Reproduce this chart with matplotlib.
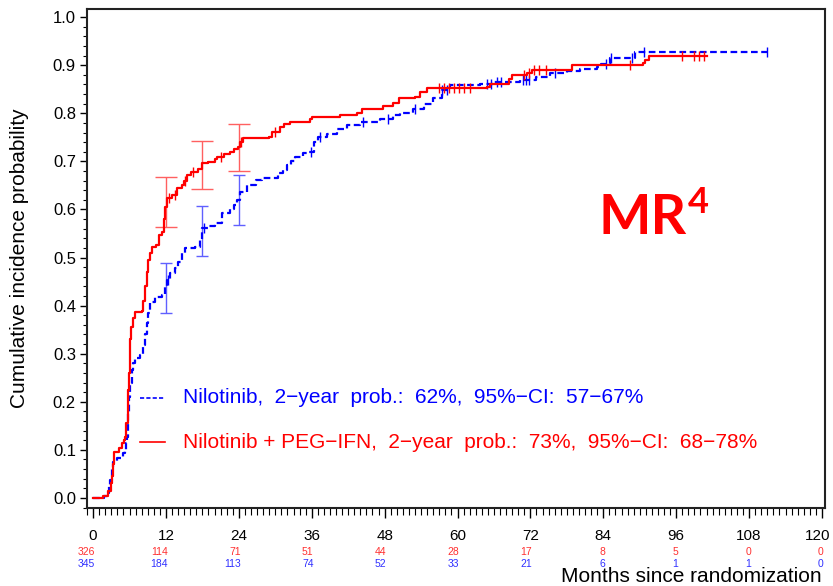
import matplotlib
matplotlib.use("Agg")
import matplotlib.pyplot as plt
import matplotlib.transforms as mtransforms
from matplotlib.ticker import MultipleLocator, FormatStrFormatter

plt.rcParams['font.family'] = ['Liberation Sans', 'DejaVu Sans']

# ---- data ----
red_t = [0, 1.6, 2.5, 2.9, 3.1, 3.3, 3.5, 4.2, 4.7, 5.1, 5.3, 5.5, 5.7, 5.8, 5.9, 6.0, 6.1, 6.25, 6.5, 6.9,
         8.0, 8.3, 8.6, 8.9, 9.1, 9.4, 9.7, 10.3, 10.8, 11.3, 11.6, 11.85, 12.1, 13.0, 13.8, 14.6, 15.0, 15.4,
         16.2, 17.3, 18.0, 19.0, 20.1, 20.4, 21.5, 22.6, 23.2, 23.9, 24.2, 24.7, 28.9, 29.4, 30.8, 31.5, 32.4,
         35.7, 36.0, 40.7, 43.4, 44.2, 47.8, 49.4, 50.3, 53.0, 53.8, 54.9, 64.8, 65.3, 68.4, 68.9, 71.4, 72.2,
         78.8, 90.6, 90.9, 91.6, 101.0]
red_p = [0, 0.005, 0.015, 0.03, 0.045, 0.07, 0.096, 0.104, 0.114, 0.12, 0.127, 0.156, 0.2, 0.225, 0.26, 0.294,
         0.33, 0.356, 0.375, 0.387, 0.389, 0.41, 0.44, 0.47, 0.495, 0.51, 0.522, 0.526, 0.547, 0.554, 0.58, 0.606,
         0.623, 0.63, 0.644, 0.651, 0.66, 0.672, 0.678, 0.685, 0.697, 0.699, 0.704, 0.71, 0.715, 0.72, 0.725, 0.73,
         0.741, 0.748, 0.751, 0.762, 0.772, 0.777, 0.782, 0.789, 0.793, 0.796, 0.801, 0.81, 0.815, 0.822, 0.831,
         0.834, 0.845, 0.853, 0.855, 0.862, 0.872, 0.879, 0.884, 0.891, 0.9, 0.905, 0.911, 0.919, 0.919]

blue_t = [0, 1.8, 2.25, 2.6, 2.8, 3.1, 3.35, 3.9, 4.7, 5.0, 5.3, 5.5, 5.65, 5.75, 5.8, 5.95, 6.1, 6.4, 6.6, 6.9,
          7.7, 8.3, 8.6, 8.8, 9.1, 9.4, 10.2, 11.3, 11.85, 12.1, 12.7, 13.5, 14.0, 14.6, 15.1, 16.8, 17.6, 18.0,
          19.0, 20.1, 21.2, 22.6, 23.2, 23.7, 24.2, 25.3, 26.9, 27.8, 30.5, 31.2, 31.9, 32.6, 33.3, 34.6, 35.4,
          36.3, 37.1, 38.5, 40.1, 41.8, 43.9, 47.2, 49.4, 50.5, 52.7, 54.4, 56.0, 57.4, 58.8, 63.7, 65.9, 70.3,
          73.0, 75.2, 78.0, 80.2, 82.9, 83.7, 85.1, 89.2, 111.0]
blue_p = [0, 0.003, 0.01, 0.025, 0.037, 0.06, 0.075, 0.082, 0.086, 0.093, 0.1, 0.115, 0.127, 0.15, 0.176, 0.21,
          0.238, 0.266, 0.28, 0.29, 0.297, 0.318, 0.34, 0.363, 0.384, 0.408, 0.418, 0.422, 0.439, 0.453, 0.467,
          0.478, 0.49, 0.509, 0.519, 0.522, 0.536, 0.561, 0.565, 0.571, 0.592, 0.602, 0.61, 0.62, 0.637, 0.651,
          0.661, 0.665, 0.675, 0.683, 0.692, 0.7, 0.71, 0.717, 0.72, 0.741, 0.751, 0.758, 0.768, 0.775, 0.782,
          0.789, 0.796, 0.8, 0.81, 0.82, 0.831, 0.848, 0.859, 0.862, 0.866, 0.869, 0.876, 0.884, 0.887, 0.893,
          0.896, 0.903, 0.916, 0.928, 0.928]

red_cens = [12.5, 13.5, 15.2, 16.5, 21.0, 24.4, 30.0, 57.0, 57.8, 58.6, 59.4, 60.2, 61.0, 62.0,
            71.0, 71.8, 72.6, 73.4, 74.5, 88.4, 97.0, 99.0, 99.8, 100.5]
blue_cens = [12.4, 18.2, 35.9, 37.3, 44.5, 48.6, 53.0, 57.5, 58.2, 64.9, 65.5, 66.5, 67.2, 70.7, 71.3,
             71.8, 76.0, 84.5, 85.3, 88.7, 90.7, 111.0]

ci_t = [12, 18, 24]
red_lo = [0.563, 0.642, 0.680]
red_hi = [0.668, 0.743, 0.778]
blue_lo = [0.385, 0.503, 0.568]
blue_hi = [0.489, 0.607, 0.671]

xticks = [0, 12, 24, 36, 48, 60, 72, 84, 96, 108, 120]
risk_red = [326, 114, 71, 51, 44, 28, 17, 8, 5, 0, 0]
risk_blue = [345, 184, 113, 74, 52, 33, 21, 6, 1, 1, 0]

blue_label = "Nilotinib,  2\u2212year  prob.:  62%,  95%\u2212CI:  57\u221267%"
red_label = "Nilotinib + PEG\u2212IFN,  2\u2212year  prob.:  73%,  95%\u2212CI:  68\u221278%"

RED = "#FF0000"
BLUE = "#0000FF"


def step_at(ts, ps, x):
    v = ps[0]
    for t, p in zip(ts, ps):
        if t <= x:
            v = p
    return v


fig = plt.figure(figsize=(8.33, 5.86), dpi=100)
ax = fig.add_axes([87 / 833, 1 - 508 / 586, 738 / 833, 499 / 586])

ax.plot(blue_t, blue_p, drawstyle="steps-post", color=BLUE, lw=1.6, dashes=(3, 1.6), zorder=3)
ax.plot(red_t, red_p, drawstyle="steps-post", color=RED, lw=1.6, zorder=4)

ax.plot(blue_cens, [step_at(blue_t, blue_p, c) for c in blue_cens], ls="none", marker="|",
        ms=7, mew=1.0, color=BLUE, zorder=3)
ax.plot(red_cens, [step_at(red_t, red_p, c) for c in red_cens], ls="none", marker="|",
        ms=7, mew=1.0, color=RED, zorder=4)

# confidence interval bars
for t, lo, hi in zip(ci_t, red_lo, red_hi):
    ax.errorbar([t], [(lo + hi) / 2], yerr=[[(hi - lo) / 2], [(hi - lo) / 2]], fmt="none",
                ecolor="#FF6060", elinewidth=1.0, capsize=8, capthick=1.0, zorder=2)
for t, lo, hi in zip(ci_t, blue_lo, blue_hi):
    ax.errorbar([t], [(lo + hi) / 2], yerr=[[(hi - lo) / 2], [(hi - lo) / 2]], fmt="none",
                ecolor="#6060FF", elinewidth=1.0, capsize=4, capthick=1.0, zorder=2)

ax.set_xlim(-1.0, 120.5)
ax.set_ylim(-0.021, 1.017)

ax.set_yticks([i / 10 for i in range(11)])
ax.yaxis.set_major_formatter(FormatStrFormatter("%.1f"))
ax.yaxis.set_minor_locator(MultipleLocator(0.02))
ax.set_xticks(xticks)
ax.xaxis.set_minor_locator(MultipleLocator(1))

ax.tick_params(axis="y", which="major", length=5, width=1, labelsize=12, pad=3)
ax.tick_params(axis="y", which="minor", length=3, width=0.8)
ax.tick_params(axis="x", which="major", length=7, width=1, labelsize=11, pad=8)
ax.tick_params(axis="x", which="minor", length=5, width=0.8)

# keep the last x tick label inside the canvas
last_lbl = ax.get_xticklabels()[-1]
last_lbl.set_transform(last_lbl.get_transform() +
                       mtransforms.ScaledTranslation(-4 / 100, 0, fig.dpi_scale_trans))

for s in ax.spines.values():
    s.set_linewidth(1.5)
    s.set_color("#222222")

ax.set_ylabel("Cumulative incidence probability", fontsize=15)
ax.yaxis.set_label_coords(-0.078, 0.5)

# legend (manual)
ax.plot([7.7, 11.9], [0.208, 0.208], color=BLUE, lw=1.2, dashes=(2.5, 1.3))
ax.plot([7.7, 11.9], [0.116, 0.116], color=RED, lw=1.2)
ax.text(14.8, 0.208, blue_label, color=BLUE, fontsize=15, va="center", ha="left")
ax.text(14.8, 0.116, red_label, color=RED, fontsize=15, va="center", ha="left")

# MR4 label
ax.text(83.2, 0.548, "MR", color=RED, fontsize=40, fontweight="bold", family="Lato",
        ha="left", va="baseline")
ax.text(98.0, 0.593, "4", color=RED, fontsize=26, fontweight="bold", family="Lato",
        ha="left", va="baseline")

# at-risk table
trans = mtransforms.blended_transform_factory(ax.transData, ax.transAxes)
for x, r, b in zip(xticks, risk_red, risk_blue):
    ax.text(x + 0.3, -0.0888, str(r), color="#FF3030", fontsize=7.5, ha="right", va="center",
            transform=trans, clip_on=False)
    ax.text(x + 0.3, -0.1116, str(b), color="#3030FF", fontsize=7.5, ha="right", va="center",
            transform=trans, clip_on=False)

ax.text(0.996, -0.138, "Months since randomization", fontsize=15, ha="right", va="center",
        transform=ax.transAxes, clip_on=False)

fig.savefig("out.png", dpi=100)
